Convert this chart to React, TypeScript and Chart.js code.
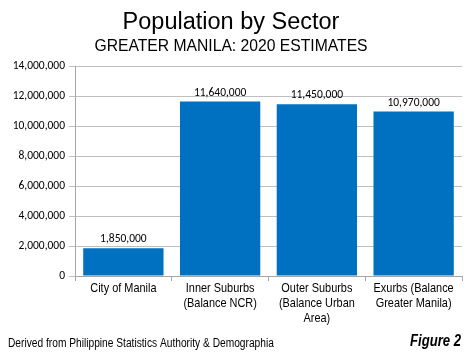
import React, { useEffect, useRef } from "react";
import { Chart, registerables } from "chart.js";

Chart.register(...registerables);

const categories: string[][] = [
  ["City of Manila"],
  ["Inner Suburbs", "(Balance NCR)"],
  ["Outer Suburbs", "(Balance Urban", "Area)"],
  ["Exurbs (Balance", "Greater Manila)"],
];
const populations: number[] = [1850000, 11640000, 11450000, 10970000];
const yMax = 14000000;
const yStep = 2000000;
const titleText = "Population by Sector";
const subtitleText = "GREATER MANILA: 2020 ESTIMATES";
const footerLeft = "Derived from Philippine Statistics Authority & Demographia";
const footerRight = "Figure 2";

const SANS = "'Liberation Sans', Arial, sans-serif";
const NUMFONT = "Carlito, Lato, sans-serif";
const NARROW_X = 0.84;
const fmt = (v: number) => v.toLocaleString("en-US");

function narrowText(ctx: any, text: string, x: number, y: number, sx: number) {
  ctx.save();
  ctx.translate(x, y);
  ctx.scale(sx, 1);
  ctx.fillText(text, 0, 0);
  ctx.restore();
}

const extrasPlugin = {
  id: "extras",
  afterDatasetsDraw(chart: any) {
    const ctx = chart.ctx;
    const meta = chart.getDatasetMeta(0);
    ctx.save();
    ctx.fillStyle = "#000";
    ctx.font = `11.5px ${NUMFONT}`;
    ctx.textAlign = "center";
    ctx.textBaseline = "bottom";
    meta.data.forEach((bar: any, i: number) => {
      ctx.fillText(fmt(populations[i]), bar.x, bar.y - 3);
    });
    ctx.restore();
  },
  afterDraw(chart: any) {
    const ctx = chart.ctx;
    const xs = chart.scales.x;
    const bottom = chart.chartArea.bottom;
    ctx.save();
    ctx.fillStyle = "#000";
    ctx.textBaseline = "middle";
    ctx.textAlign = "center";
    ctx.font = `13px ${SANS}`;
    categories.forEach((lines, i) => {
      const cx = xs.getPixelForValue(i);
      lines.forEach((ln, j) => {
        narrowText(ctx, ln, cx, bottom + 12 + j * 15, NARROW_X);
      });
    });
    ctx.textAlign = "left";
    ctx.font = `12px ${SANS}`;
    narrowText(ctx, footerLeft, 8, 344, 0.85);
    ctx.textAlign = "right";
    ctx.font = `italic bold 16px ${SANS}`;
    narrowText(ctx, footerRight, 461, 342, 0.82);
    ctx.restore();
  },
};

export default function App() {
  const ref = useRef<HTMLCanvasElement | null>(null);
  useEffect(() => {
    if (!ref.current) return;
    const chart = new Chart(ref.current, {
      type: "bar",
      data: {
        labels: categories,
        datasets: [
          {
            data: populations,
            backgroundColor: "#0070C0",
            borderWidth: 0,
            barPercentage: 0.83,
            categoryPercentage: 1,
          },
        ],
      },
      options: {
        animation: false,
        responsive: false,
        maintainAspectRatio: false,
        layout: { padding: { left: 0, right: 12, top: 0, bottom: 0 } },
        plugins: {
          legend: { display: false },
          tooltip: { enabled: false },
          title: {
            display: true,
            text: titleText,
            color: "#000",
            font: { family: SANS, size: 23.5, weight: "normal" },
            padding: { top: 8, bottom: 0 },
          },
          subtitle: {
            display: true,
            text: subtitleText,
            color: "#000",
            font: { family: SANS, size: 15.7, weight: "normal" },
            padding: { top: 1, bottom: 10 },
          },
        },
        scales: {
          x: {
            afterFit: (scale: any) => {
              scale.height = 79;
            },
            grid: {
              offset: true,
              drawOnChartArea: false,
              color: "#a6a6a6",
              tickLength: 5,
            },
            border: { color: "#a6a6a6" },
            ticks: {
              color: "rgba(0,0,0,0)",
              font: { family: SANS, size: 13 },
              padding: 2,
              maxRotation: 0,
              autoSkip: false,
            },
          },
          y: {
            min: 0,
            max: yMax,
            afterFit: (scale: any) => {
              scale.width = 75;
            },
            grid: {
              color: "#bfbfbf",
              tickLength: 6,
            },
            border: { color: "#a6a6a6" },
            ticks: {
              stepSize: yStep,
              color: "#000",
              font: { family: NUMFONT, size: 11.5 },
              padding: 4,
              callback: (v: any) => fmt(Number(v)),
            },
          },
        },
      },
      plugins: [extrasPlugin],
    });
    return () => chart.destroy();
  }, []);
  return (
    <div style={{ position: "absolute", left: 0, top: 0, width: 474, height: 355, background: "#fff" }}>
      <canvas ref={ref} width={474} height={355} />
    </div>
  );
}
